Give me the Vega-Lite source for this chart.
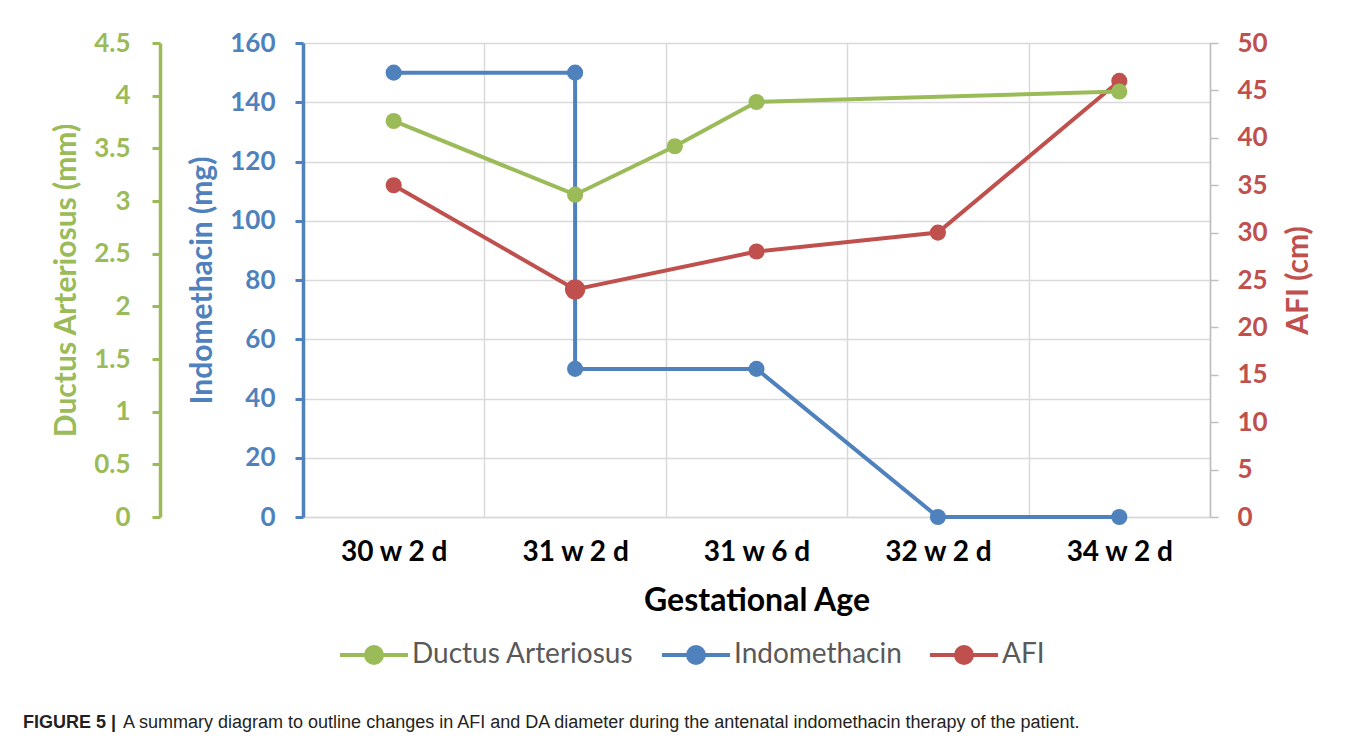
{
  "$schema": "https://vega.github.io/schema/vega-lite/v6.json",
  "width": 907,
  "height": 474,
  "autosize": {"type": "none"},
  "padding": {"left": 303, "top": 43, "right": 147, "bottom": 225},
  "background": "white",
  "config": {
    "view": {"stroke": null},
    "font": "Lato",
    "legend": {
      "orient": "none",
      "symbolType": "M-1,0L1,0M-0.235,0A0.235,0.235,0,1,1,0.235,0A0.235,0.235,0,1,1,-0.235,0Z",
      "symbolSize": 4624,
      "symbolStrokeWidth": 4
    }
  },
  "title": {
    "text": "FIGURE 5 |",
    "subtitle": "\u200b\u00a0\u00a0\u00a0\u00a0\u00a0\u00a0\u00a0\u00a0\u00a0\u00a0\u00a0\u00a0\u00a0\u00a0\u00a0\u00a0\u00a0\u00a0\u00a0\u00a0A summary diagram to outline changes in AFI and DA diameter during the antenatal indomethacin therapy of the patient.",
    "orient": "bottom",
    "anchor": "start",
    "frame": "group",
    "font": "Liberation Sans",
    "fontSize": 18,
    "fontWeight": "bold",
    "color": "#231f20",
    "subtitleFont": "Liberation Sans",
    "subtitleFontSize": 18,
    "subtitleFontWeight": "normal",
    "subtitleColor": "#231f20",
    "subtitlePadding": -18,
    "dx": -280,
    "offset": 43
  },
  "data": {
    "values": [
      {"series": "Indomethacin", "ga": "30 w 2 d", "idx": 0, "value": 150},
      {"series": "Indomethacin", "ga": "31 w 2 d", "idx": 1, "value": 150},
      {"series": "Indomethacin", "ga": "31 w 2 d", "idx": 1, "value": 50},
      {"series": "Indomethacin", "ga": "31 w 6 d", "idx": 2, "value": 50},
      {"series": "Indomethacin", "ga": "32 w 2 d", "idx": 3, "value": 0},
      {"series": "Indomethacin", "ga": "34 w 2 d", "idx": 4, "value": 0},
      {"series": "AFI", "ga": "30 w 2 d", "idx": 0, "value": 35},
      {"series": "AFI", "ga": "31 w 2 d", "idx": 1, "value": 24},
      {"series": "AFI", "ga": "31 w 6 d", "idx": 2, "value": 28},
      {"series": "AFI", "ga": "32 w 2 d", "idx": 3, "value": 30},
      {"series": "AFI", "ga": "34 w 2 d", "idx": 4, "value": 46},
      {"series": "Ductus Arteriosus", "ga": "30 w 2 d", "idx": 0, "value": 3.76},
      {"series": "Ductus Arteriosus", "ga": "31 w 2 d", "idx": 1, "value": 3.06},
      {"series": "Ductus Arteriosus", "ga": "31 w 4 d", "idx": 1.55, "value": 3.52},
      {"series": "Ductus Arteriosus", "ga": "31 w 6 d", "idx": 2, "value": 3.94},
      {"series": "Ductus Arteriosus", "ga": "34 w 2 d", "idx": 4, "value": 4.04}
    ]
  },
  "encoding": {
    "x": {
      "field": "idx",
      "type": "quantitative",
      "scale": {"domain": [-0.5, 4.5], "nice": false, "zero": false},
      "axis": {
        "values": [-0.5, 0, 0.5, 1, 1.5, 2, 2.5, 3, 3.5, 4, 4.5],
        "labelExpr": "datum.value % 1 === 0 ? ['30 w 2 d','31 w 2 d','31 w 6 d','32 w 2 d','34 w 2 d'][datum.value] : ''",
        "labelFlush": false,
        "labelOverlap": false,
        "ticks": false,
        "domainColor": "#d9d9d9",
        "domainWidth": 1.5,
        "grid": true,
        "gridColor": {"condition": {"test": "datum.value % 1 === 0", "value": "transparent"}, "value": "#d9d9d9"},
        "gridWidth": 1.5,
        "labelFont": "Lato",
        "labelFontWeight": "bold",
        "labelFontSize": 28,
        "labelColor": "#000000",
        "labelPadding": 21,
        "title": "Gestational Age",
        "titleFont": "Lato",
        "titleFontSize": 32,
        "titleFontWeight": "bold",
        "titleColor": "#000000",
        "titlePadding": 19
      }
    },
    "color": {
      "field": "series",
      "type": "nominal",
      "scale": {"domain": ["Ductus Arteriosus", "Indomethacin", "AFI"], "range": ["#9BBB59", "#4F81BD", "#C0504D"]},
      "legend": {
        "orient": "none",
        "legendX": 35,
        "legendY": 576,
        "direction": "horizontal",
        "title": null,
        "symbolType": "M-1,0L1,0M-0.235,0A0.235,0.235,0,1,1,0.235,0A0.235,0.235,0,1,1,-0.235,0Z",
        "symbolSize": 4624,
        "symbolStrokeWidth": 4,
        "symbolOpacity": 1,
        "labelFont": "Lato",
        "labelFontSize": 28,
        "labelLimit": 500,
        "labelColor": "#595959",
        "labelOffset": 2,
        "columnPadding": 20,
        "encode": {
          "symbols": {
            "update": {
              "shape": {"value": "M-1,0L1,0M-0.235,0A0.235,0.235,0,1,1,0.235,0A0.235,0.235,0,1,1,-0.235,0Z"},
              "size": {"value": 4624},
              "fill": {"scale": "color", "field": "value"},
              "stroke": {"scale": "color", "field": "value"},
              "strokeWidth": {"value": 4},
              "opacity": {"value": 1}
            }
          }
        }
      }
    }
  },
  "layer": [
    {
      "transform": [{"filter": "datum.series === 'Indomethacin'"}],
      "encoding": {
        "y": {
          "field": "value",
          "type": "quantitative",
          "scale": {"domain": [0, 160], "nice": false},
          "axis": {
            "orient": "left",
            "values": [0, 20, 40, 60, 80, 100, 120, 140, 160],
            "title": "Indomethacin (mg)",
            "titleFont": "Lato",
            "titleFontSize": 30,
            "titleFontWeight": "bold",
            "titleColor": "#4F81BD",
            "titlePadding": 12,
            "labelFont": "Lato",
            "labelFontSize": 26,
            "labelFontWeight": "bold",
            "labelColor": "#4F81BD",
            "labelPadding": 20,
            "domainColor": "#4F81BD",
            "domainWidth": 3.5,
            "tickColor": "#4F81BD",
            "tickWidth": 3,
            "tickSize": 8,
            "grid": true,
            "gridColor": "#d9d9d9",
            "gridWidth": 1.5
          }
        }
      },
      "layer": [
        {"mark": {"type": "line", "strokeWidth": 4}},
        {"mark": {"type": "point", "filled": true, "opacity": 1, "size": 260}}
      ]
    },
    {
      "transform": [{"filter": "datum.series === 'AFI'"}],
      "encoding": {
        "y": {
          "field": "value",
          "type": "quantitative",
          "scale": {"domain": [0, 50], "nice": false},
          "axis": {
            "orient": "right",
            "values": [0, 5, 10, 15, 20, 25, 30, 35, 40, 45, 50],
            "title": "AFI (cm)",
            "titleAngle": 270,
            "titleBaseline": "top",
            "titleFont": "Lato",
            "titleFontSize": 30,
            "titleFontWeight": "bold",
            "titleColor": "#C0504D",
            "titlePadding": 16,
            "labelFont": "Lato",
            "labelFontSize": 26,
            "labelFontWeight": "bold",
            "labelColor": "#C0504D",
            "labelPadding": 19,
            "domainColor": "#bfbfbf",
            "domainWidth": 1.5,
            "tickColor": "#bfbfbf",
            "tickWidth": 1.5,
            "tickSize": 8,
            "grid": false
          }
        }
      },
      "layer": [
        {"mark": {"type": "line", "strokeWidth": 4}},
        {
          "mark": {"type": "point", "filled": true, "opacity": 1},
          "encoding": {
            "size": {"condition": {"test": "datum.idx === 1", "value": 420}, "value": 260}
          }
        }
      ]
    },
    {
      "transform": [{"filter": "datum.series === 'Ductus Arteriosus'"}],
      "encoding": {
        "y": {
          "field": "value",
          "type": "quantitative",
          "scale": {"domain": [0, 4.5], "nice": false},
          "axis": {
            "orient": "left",
            "offset": 143,
            "values": [0, 0.5, 1, 1.5, 2, 2.5, 3, 3.5, 4, 4.5],
            "format": "~g",
            "title": "Ductus Arteriosus (mm)",
            "titleFont": "Lato",
            "titleFontSize": 30,
            "titleFontWeight": "bold",
            "titleColor": "#9BBB59",
            "titlePadding": 12,
            "labelFont": "Lato",
            "labelFontSize": 26,
            "labelFontWeight": "bold",
            "labelColor": "#9BBB59",
            "labelPadding": 22,
            "domainColor": "#9BBB59",
            "domainWidth": 3.5,
            "tickColor": "#9BBB59",
            "tickWidth": 3,
            "tickSize": 8,
            "grid": false
          }
        }
      },
      "layer": [
        {"mark": {"type": "line", "strokeWidth": 4}},
        {"mark": {"type": "point", "filled": true, "opacity": 1, "size": 260}}
      ]
    }
  ],
  "resolve": {"scale": {"y": "independent"}}
}
